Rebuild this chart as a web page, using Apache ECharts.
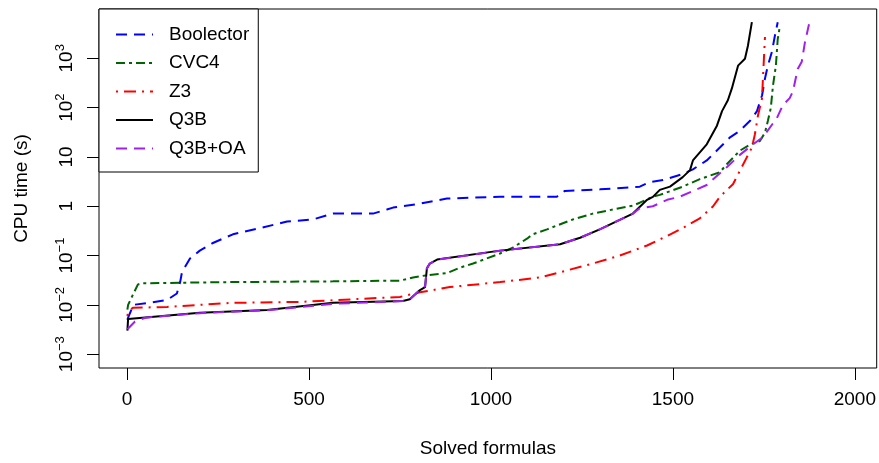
<!DOCTYPE html>
<html>
<head>
<meta charset="utf-8">
<script src="https://cdn.jsdelivr.net/npm/echarts@6/dist/echarts.min.js"></script>
<style>html,body{margin:0;padding:0;background:#fff;}#c{width:879px;height:463px;}</style>
</head>
<body>
<div id="c"></div>
<script>
// ---- data ----
const seriesNames = ['Boolector', 'CVC4', 'Z3', 'Q3B', 'Q3B+OA'];

const boolectorX = [1, 3, 14, 16, 63, 110, 137, 146, 151, 173, 200, 236, 291, 365, 440, 511, 566, 676, 714, 731, 805, 879, 1025, 1181, 1203, 1300, 1409, 1437, 1473, 1527, 1555, 1593, 1629, 1657, 1684, 1712, 1731, 1745, 1753, 1761, 1772, 1780, 1788];
const boolectorY = [0.005, 0.0055, 0.0087, 0.010, 0.011, 0.0126, 0.017, 0.029, 0.046, 0.087, 0.126, 0.18, 0.27, 0.36, 0.49, 0.54, 0.71, 0.71, 0.86, 0.94, 1.13, 1.43, 1.56, 1.56, 2.05, 2.2, 2.5, 3.1, 3.4, 4.5, 5.6, 8.5, 15.5, 25, 34, 54, 85, 178, 390, 710, 1350, 2800, 5400];

const cvc4X = [1, 3, 16, 30, 44, 291, 566, 750, 786, 824, 879, 915, 951, 1025, 1060, 1099, 1115, 1154, 1225, 1280, 1335, 1390, 1409, 1445, 1464, 1527, 1574, 1629, 1648, 1684, 1712, 1739, 1753, 1761, 1769, 1775, 1783, 1788, 1794];
const cvc4Y = [0.008, 0.010, 0.016, 0.026, 0.0275, 0.029, 0.030, 0.031, 0.036, 0.040, 0.044, 0.057, 0.069, 0.11, 0.145, 0.22, 0.27, 0.34, 0.54, 0.71, 0.86, 1.03, 1.18, 1.56, 1.7, 2.5, 3.55, 4.9, 7.1, 13.4, 17.8, 21, 31, 54, 98, 280, 710, 2450, 4500];

const z3X = [1, 3, 16, 110, 291, 475, 750, 805, 887, 1025, 1135, 1209, 1280, 1354, 1429, 1484, 1527, 1574, 1610, 1629, 1665, 1703, 1717, 1725, 1734, 1745, 1747, 1753];
const z3Y = [0.006, 0.0072, 0.0087, 0.0091, 0.011, 0.0115, 0.0145, 0.018, 0.023, 0.029, 0.036, 0.050, 0.069, 0.10, 0.16, 0.25, 0.36, 0.57, 0.99, 1.56, 2.8, 9.8, 15.5, 28, 71, 155, 340, 2700];

const q3bX = [1, 3, 200, 385, 566, 758, 777, 805, 819, 824, 832, 852, 1025, 1190, 1245, 1299, 1390, 1429, 1445, 1464, 1492, 1527, 1547, 1555, 1593, 1621, 1635, 1651, 1662, 1679, 1698, 1706, 1717];
const q3bY = [0.003, 0.0052, 0.0069, 0.0079, 0.011, 0.012, 0.013, 0.020, 0.023, 0.055, 0.069, 0.083, 0.126, 0.17, 0.23, 0.34, 0.71, 1.35, 1.55, 2.15, 2.5, 3.9, 5.4, 8.5, 18, 43, 85, 141, 245, 710, 980, 1780, 5400];

const q3boaX = [1, 22, 50, 200, 385, 566, 758, 777, 805, 819, 824, 832, 852, 1025, 1190, 1245, 1299, 1390, 1409, 1445, 1484, 1519, 1593, 1648, 1684, 1720, 1747, 1786, 1802, 1821, 1830, 1843, 1854, 1863, 1874];
const q3boaY = [0.0032, 0.0046, 0.0055, 0.0068, 0.0078, 0.0105, 0.012, 0.013, 0.020, 0.024, 0.055, 0.069, 0.083, 0.125, 0.17, 0.23, 0.34, 0.71, 0.91, 1.0, 1.35, 1.56, 2.7, 6.2, 11, 18, 25, 62, 112, 156, 215, 610, 850, 2150, 4900];

const xTickValues = [0, 500, 1000, 1500, 2000];
const yTickValues = [0.001, 0.01, 0.1, 1, 10, 100, 1000];
const yTickLabels = ['{b|10}{s|\u22123}', '{b|10}{s|\u22122}', '{b|10}{s|\u22121}', '{b|1}', '{b|10}', '{b|10}{s|2}', '{b|10}{s|3}'];

// ---- chart ----
const FONT = 'Liberation Sans, Arial, sans-serif';
const colors = ['#0000FF', '#006400', '#FF0000', '#000000', '#A020F0'];
const dashes = [[11, 7], [9, 4, 3, 4], [2, 6, 12, 6], 'solid', [11, 7]];
const xs = [boolectorX, cvc4X, z3X, q3bX, q3boaX];
const ys = [boolectorY, cvc4Y, z3Y, q3bY, q3boaY];

function zip(a, b) { return a.map((v, i) => [v, b[i]]); }

const chart = echarts.init(document.getElementById('c'), null, {renderer: 'canvas'});
chart.setOption({
  animation: false,
  backgroundColor: '#fff',
  grid: {left: 99, right: 2, top: 9, bottom: 89, show: true, borderColor: '#000', borderWidth: 1, backgroundColor: 'transparent'},
  legend: {
    orient: 'vertical', left: 99, top: 9,
    padding: [16, 9, 14, 16],
    itemGap: 9.5, itemWidth: 37, itemHeight: 14,
    borderColor: '#000', borderWidth: 1, borderRadius: 0,
    backgroundColor: '#fff',
    selectedMode: false,
    itemStyle: {opacity: 0, borderWidth: 0},
    textStyle: {fontSize: 19, color: '#000', fontFamily: FONT, padding: [0, 0, 0, 11]},
    data: seriesNames
  },
  xAxis: {
    type: 'value', min: -77, max: 2060,
    name: 'Solved formulas', nameLocation: 'middle', nameGap: 71,
    nameTextStyle: {fontSize: 19, color: '#000', fontFamily: FONT},
    axisLine: {show: false, onZero: false},
    splitLine: {show: false},
    axisTick: {show: true, length: 12, lineStyle: {color: '#000', width: 1}, customValues: xTickValues},
    axisLabel: {fontSize: 19, color: '#000', fontFamily: FONT, margin: 22, customValues: xTickValues,
      formatter: function (v) { return String(v); }}
  },
  yAxis: {
    type: 'log', logBase: 10, min: 0.000525, max: 10000,
    name: 'CPU time (s)', nameLocation: 'middle', nameGap: 68, nameRotate: 90,
    nameTextStyle: {fontSize: 19, color: '#000', fontFamily: FONT},
    axisLine: {show: false, onZero: false},
    splitLine: {show: false},
    axisTick: {show: true, length: 12, lineStyle: {color: '#000', width: 1}, customValues: yTickValues},
    axisLabel: {
      rotate: 90, margin: 23, color: '#000', fontFamily: FONT, customValues: yTickValues,
      formatter: function (v) {
        for (let i = 0; i < yTickValues.length; i++) {
          if (Math.abs(Math.log10(v) - Math.log10(yTickValues[i])) < 1e-6) return yTickLabels[i];
        }
        return '';
      },
      rich: {
        b: {fontSize: 19, lineHeight: 22, verticalAlign: 'bottom', color: '#000', fontFamily: FONT},
        s: {fontSize: 13, lineHeight: 13, verticalAlign: 'top', color: '#000', fontFamily: FONT}
      }
    }
  },
  series: seriesNames.map((n, i) => ({
    name: n, type: 'line', data: zip(xs[i], ys[i]),
    symbol: 'none', showSymbol: false, smooth: false, clip: true,
    lineStyle: {color: colors[i], width: 2, type: dashes[i]},
    itemStyle: {color: colors[i]},
    emphasis: {disabled: true}
  }))
});
</script>
</body>
</html>
